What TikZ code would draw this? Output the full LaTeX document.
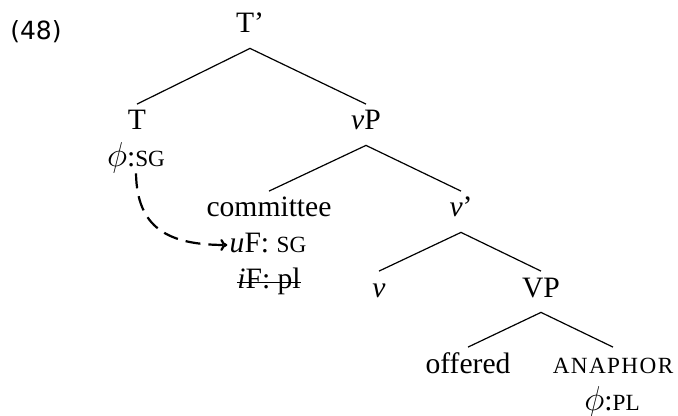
\documentclass[tikz,border=0pt]{standalone}
\usepackage{fontspec}
\setmainfont{Liberation Serif}
\newfontfamily\exfont{DejaVu Sans}
\usetikzlibrary{arrows.meta}
\newcommand\smc[1]{{\fontsize{11.6pt}{12pt}\selectfont #1}}
\newcommand\phisym{{\fontsize{18pt}{18pt}\selectfont$\phi$}}
\tikzset{
  lab/.style={inner sep=0pt, anchor=base, font=\fontsize{14.8pt}{17pt}\selectfont},
  cat/.style={lab, text height=12.75pt, text depth=7.5pt},
  feat/.style={lab, text depth=3pt},
  branch/.style={line width=0.6pt},
  agree/.style={line width=1.1pt, dash pattern=on 7.5pt off 4pt, -{To[length=3.5pt,width=6pt]}},
}
\begin{document}
\begin{tikzpicture}[x=0.5pt,y=-0.5pt]
\useasboundingbox (0,0) rectangle (678,416);
\node[anchor=base, inner sep=0pt, font=\exfont\fontsize{12.5pt}{14pt}\selectfont] (ex) at (36,40) {(48)};
\node[cat] (Tbar) at (250,33) {T’};
\node[cat] (T) at (137,130) {T};
\node[feat] (phiT) at (136,167) {\phisym:\smc{SG}};
\node[cat] (vP) at (366,130) {\textit{v}P};
\node[cat] (comm) at (269,217) {committee};
\node[lab] (uF) at (268,252) {\textit{u}F: \smc{SG}};
\node[lab] (iF) at (269,288) {\textit{i}F: pl};
\node[cat] (vbar) at (461,217) {\textit{v}’};
\node[cat] (v) at (379,297) {\textit{v}};
\node[cat] (VP) at (541,297) {VP};
\node[cat] (off) at (468,373) {offered};
\node[cat] (ana) at (613,373) {\smc{\addfontfeature{LetterSpace=6}ANAPHOR}};
\node[lab] (phiA) at (612,410) {\phisym:\smc{PL}};
\draw[branch] (T.north) -- (Tbar.south) -- (vP.north);
\draw[branch] (comm.north) -- (vP.south) -- (vbar.north);
\draw[branch] (v.north) -- (vbar.south) -- (VP.north);
\draw[branch] (off.north) -- (VP.south) -- (ana.north);
\draw[line width=0.6pt] ([yshift=2.6pt]iF.base west) -- ([yshift=2.6pt]iF.base east);
\draw[agree] (phiT.south) .. controls (137,228) and (168,245) .. ([xshift=-1pt,yshift=3.5pt]uF.base west);
\end{tikzpicture}
\end{document}
